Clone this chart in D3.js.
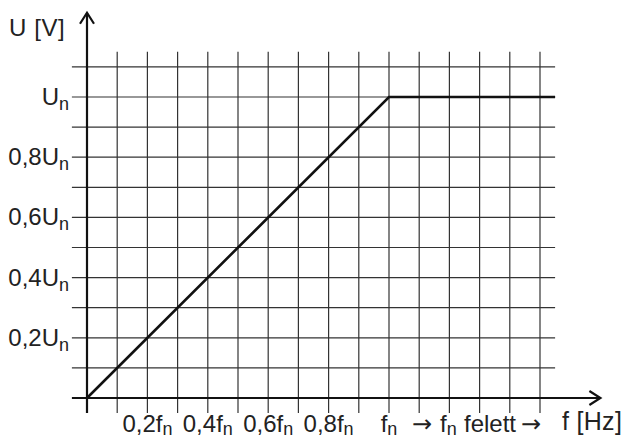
<!DOCTYPE html>
<html>
<head>
<meta charset="utf-8">
<script src="https://cdn.jsdelivr.net/npm/d3@7"></script>
<style>
  html, body { margin: 0; padding: 0; background: #fff; }
  svg { display: block; font-family: "Liberation Sans", Arial, sans-serif; }
</style>
</head>
<body>
<svg width="625" height="439"></svg>
<script>
// frequency as fraction of fn, voltage as fraction of Un
const fValues = [0, 1, 1.55];
const uValues = [0, 1, 1];

const gridF = [0.1, 0.2, 0.3, 0.4, 0.5, 0.6, 0.7, 0.8, 0.9, 1.0, 1.1, 1.2, 1.3, 1.4, 1.5];
const gridU = [0.1, 0.2, 0.3, 0.4, 0.5, 0.6, 0.7, 0.8, 0.9, 1.0, 1.1];

const xTickValues = [0.2, 0.4, 0.6, 0.8, 1.0];
const xTickLabels = ['0,2f', '0,4f', '0,6f', '0,8f', 'f'];
const yTickValues = [0.2, 0.4, 0.6, 0.8, 1.0];
const yTickLabels = ['0,2U', '0,4U', '0,6U', '0,8U', 'U'];

const svg = d3.select('svg');

const x = d3.scaleLinear().domain([0, 1]).range([87, 389]);
const y = d3.scaleLinear().domain([0, 1]).range([398, 97]);

const grid = svg.append('g')
  .attr('stroke', '#333')
  .attr('stroke-width', 1.2);

grid.selectAll('line.v')
  .data(gridF).enter()
  .append('line')
  .attr('class', 'v')
  .attr('x1', (d) => x(d)).attr('x2', (d) => x(d))
  .attr('y1', y(-0.05)).attr('y2', y(1.15));

grid.selectAll('line.h')
  .data(gridU).enter()
  .append('line')
  .attr('class', 'h')
  .attr('x1', x(-0.05)).attr('x2', x(1.55))
  .attr('y1', (d) => y(d)).attr('y2', (d) => y(d));

// axes with open arrow heads
const axes = svg.append('g')
  .attr('stroke', '#111')
  .attr('stroke-width', 2.2)
  .attr('fill', 'none');

axes.append('line')
  .attr('x1', x(-0.05)).attr('x2', x(1.7))
  .attr('y1', y(0)).attr('y2', y(0));
axes.append('path')
  .attr('d', `M${x(1.7) - 11},${y(0) - 7} L${x(1.7)},${y(0)} L${x(1.7) - 11},${y(0) + 7}`);

axes.append('line')
  .attr('x1', x(0)).attr('x2', x(0))
  .attr('y1', y(-0.05)).attr('y2', y(1.28));
axes.append('path')
  .attr('d', `M${x(0) - 7},${y(1.28) + 11} L${x(0)},${y(1.28)} L${x(0) + 7},${y(1.28) + 11}`);

// characteristic
const line = d3.line()
  .x((d) => x(d[0]))
  .y((d) => y(d[1]));

svg.append('path')
  .datum(d3.zip(fValues, uValues))
  .attr('d', line)
  .attr('fill', 'none')
  .attr('stroke', '#111')
  .attr('stroke-width', 2.6);

// labels
const addSub = (sel, main, sub, dy) => {
  sel.append('tspan').text(main);
  sel.append('tspan')
    .attr('font-size', 18)
    .attr('dy', dy)
    .text(sub);
};

svg.selectAll('text.ylab')
  .data(yTickValues).enter()
  .append('text')
  .attr('class', 'ylab')
  .attr('x', 69)
  .attr('y', (d) => y(d) + 8)
  .attr('text-anchor', 'end')
  .attr('font-size', 24)
  .attr('fill', '#222')
  .each(function (d, i) { addSub(d3.select(this), yTickLabels[i], 'n', 5); });

svg.selectAll('text.xlab')
  .data(xTickValues).enter()
  .append('text')
  .attr('class', 'xlab')
  .attr('x', (d) => x(d))
  .attr('y', 432)
  .attr('text-anchor', 'middle')
  .attr('font-size', 24)
  .attr('fill', '#222')
  .each(function (d, i) { addSub(d3.select(this), xTickLabels[i], 'n', 3); });

const above = svg.append('text')
  .attr('y', 432)
  .attr('font-size', 24)
  .attr('fill', '#222');
above.append('tspan').attr('x', 412).attr('font-family', 'DejaVu Sans').text('\u2192');
above.append('tspan').attr('x', 440).text('f');
above.append('tspan').attr('font-size', 18).attr('dy', 3).text('n');
above.append('tspan').attr('x', 464).attr('dy', -3).text('felett');
above.append('tspan').attr('x', 521).attr('font-family', 'DejaVu Sans').text('\u2192');

svg.append('text')
  .attr('x', 9)
  .attr('y', 36)
  .attr('font-size', 24)
  .attr('letter-spacing', 0.6)
  .attr('fill', '#222')
  .text('U [V]');

svg.append('text')
  .attr('x', 562)
  .attr('y', 430)
  .attr('font-size', 25)
  .attr('letter-spacing', 0.3)
  .attr('fill', '#222')
  .text('f [Hz]');
</script>
</body>
</html>
